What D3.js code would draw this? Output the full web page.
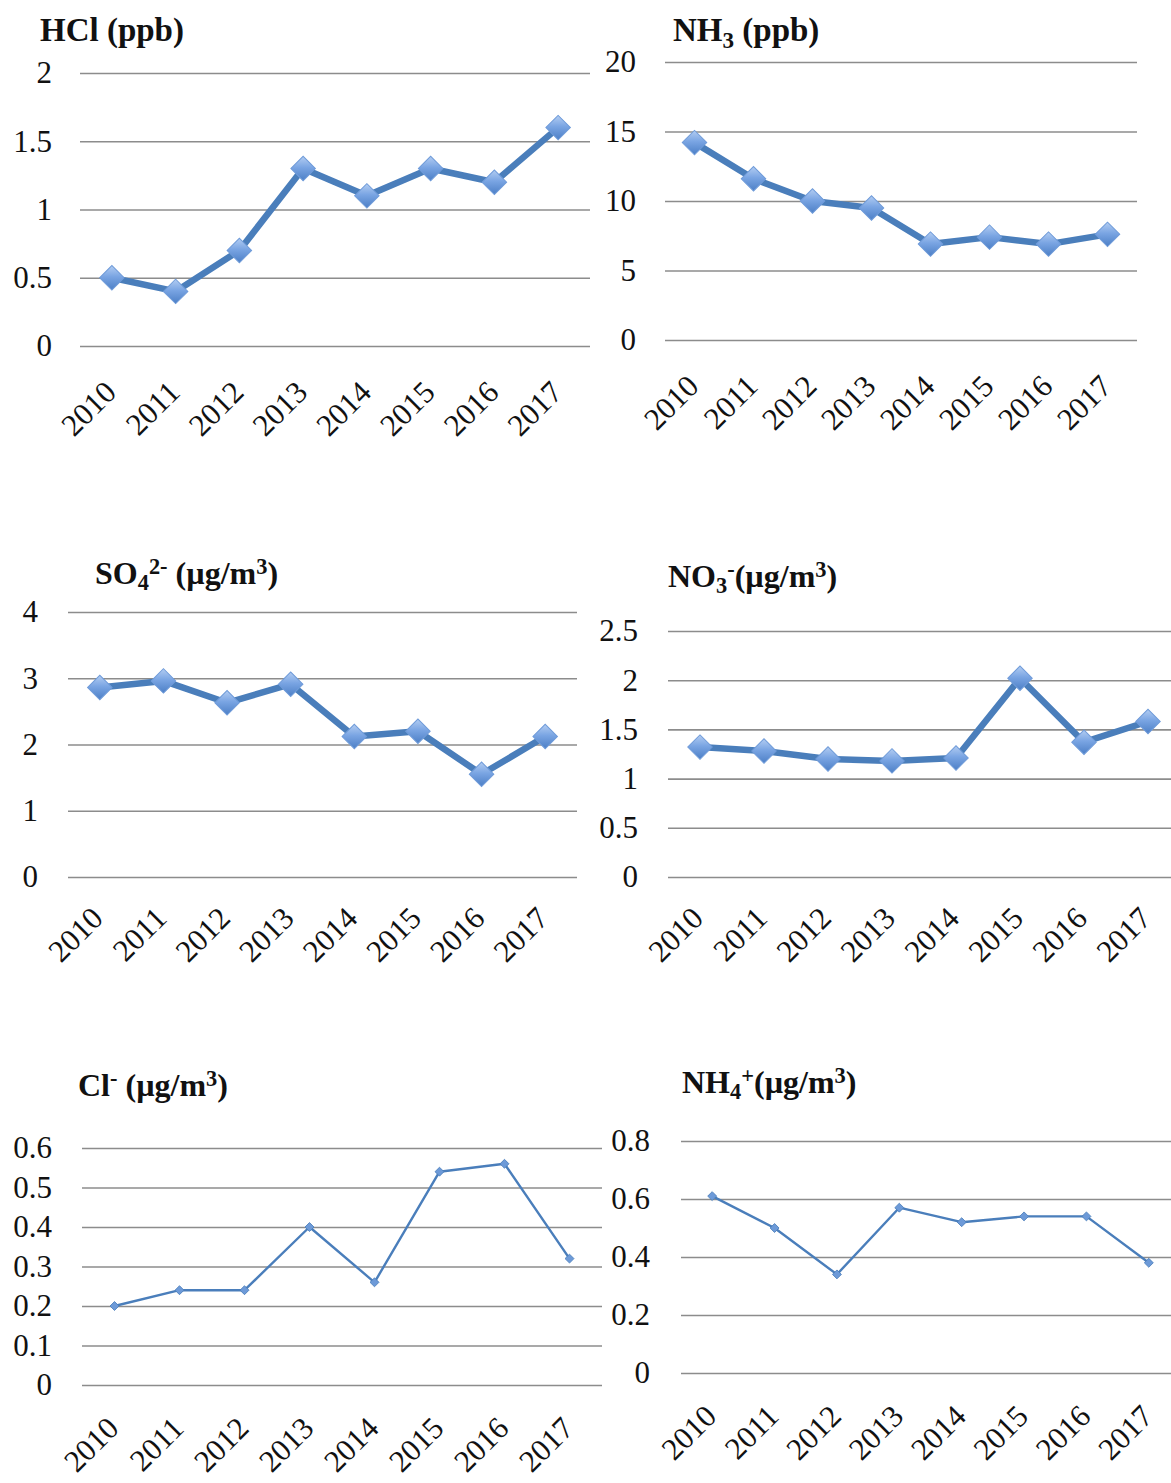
<!DOCTYPE html>
<html>
<head>
<meta charset="utf-8">
<script src="https://cdn.jsdelivr.net/npm/d3@7"></script>
<style>
  html, body { margin: 0; padding: 0; background: #fff; }
  svg { display: block; }
</style>
</head>
<body>
<svg id="chart" width="1171" height="1483"></svg>
<script>
// Annual means, 2010-2017
const years = ["2010", "2011", "2012", "2013", "2014", "2015", "2016", "2017"];

const hclValues = [0.50, 0.40, 0.70, 1.30, 1.10, 1.30, 1.20, 1.60];   // ppb
const nh3Values = [14.2, 11.6, 10.0, 9.5, 6.9, 7.4, 6.9, 7.6];        // ppb
const so4Values = [2.86, 2.96, 2.63, 2.91, 2.12, 2.20, 1.55, 2.12];   // µg/m³
const no3Values = [1.32, 1.28, 1.20, 1.18, 1.21, 2.02, 1.37, 1.58];   // µg/m³
const clValues  = [0.20, 0.24, 0.24, 0.40, 0.26, 0.54, 0.56, 0.32];   // µg/m³
const nh4Values = [0.61, 0.50, 0.34, 0.57, 0.52, 0.54, 0.54, 0.38];   // µg/m³

const hclTicks = [0, 0.5, 1, 1.5, 2];
const nh3Ticks = [0, 5, 10, 15, 20];
const so4Ticks = [0, 1, 2, 3, 4];
const no3Ticks = [0, 0.5, 1, 1.5, 2, 2.5];
const clTicks  = [0, 0.1, 0.2, 0.3, 0.4, 0.5, 0.6];
const nh4Ticks = [0, 0.2, 0.4, 0.6, 0.8];

// Title pieces: [text, role] where role is "n" normal, "sub" or "sup"
const hclTitle = [["HCl (ppb)", "n"]];
const nh3Title = [["NH", "n"], ["3", "sub"], [" (ppb)", "n"]];
const so4Title = [["SO", "n"], ["4", "sub"], ["2-", "sup"], [" (µg/m", "n"], ["3", "sup"], [")", "n"]];
const no3Title = [["NO", "n"], ["3", "sub"], ["-", "sup"], ["(µg/m", "n"], ["3", "sup"], [")", "n"]];
const clTitle  = [["Cl", "n"], ["-", "sup"], [" (µg/m", "n"], ["3", "sup"], [")", "n"]];
const nh4Title = [["NH", "n"], ["4", "sub"], ["+", "sup"], ["(µg/m", "n"], ["3", "sup"], [")", "n"]];

const SERIF = "'Liberation Serif', 'DejaVu Serif', serif";

const svg = d3.select("#chart");
const defs = svg.append("defs");

// Glossy fill for the diamond markers
const grad = defs.append("linearGradient")
  .attr("id", "markerFill")
  .attr("x1", "0%").attr("y1", "0%").attr("x2", "100%").attr("y2", "100%");
grad.append("stop").attr("offset", "0%").attr("stop-color", "#b3cdf2");
grad.append("stop").attr("offset", "45%").attr("stop-color", "#7aa5e3");
grad.append("stop").attr("offset", "100%").attr("stop-color", "#4c7fc6");

const panels = [
  { values: hclValues, ticks: hclTicks, title: hclTitle, max: 2,
    left: 80, right: 590, top: 73, bottom: 346, labelRight: 52,
    titleX: 40, titleY: 41, titleSize: 33, heavy: true, yearDx: 6, yearDy: 48 },
  { values: nh3Values, ticks: nh3Ticks, title: nh3Title, max: 20,
    left: 665, right: 1137, top: 62, bottom: 340, labelRight: 636,
    titleX: 673, titleY: 41, titleSize: 33, heavy: true, yearDx: 6, yearDy: 48 },
  { values: so4Values, ticks: so4Ticks, title: so4Title, max: 4,
    left: 68, right: 577, top: 612, bottom: 877, labelRight: 38,
    titleX: 95, titleY: 584, titleSize: 32, heavy: true, yearDx: 5, yearDy: 43 },
  { values: no3Values, ticks: no3Ticks, title: no3Title, max: 2.5,
    left: 668, right: 1180, top: 631, bottom: 877, labelRight: 638,
    titleX: 668, titleY: 587, titleSize: 32, heavy: true, yearDx: 5, yearDy: 43 },
  { values: clValues, ticks: clTicks, title: clTitle, max: 0.6,
    left: 82, right: 602, top: 1148, bottom: 1385, labelRight: 52,
    titleX: 78, titleY: 1096, titleSize: 32, heavy: false, yearDx: 6, yearDy: 45 },
  { values: nh4Values, ticks: nh4Ticks, title: nh4Title, max: 0.8,
    left: 681, right: 1180, top: 1141, bottom: 1373, labelRight: 650,
    titleX: 682, titleY: 1093, titleSize: 32, heavy: false, yearDx: 6, yearDy: 45 }
];

panels.forEach(p => {
  const x = d3.scaleBand().domain(years).range([p.left, p.right]);
  const y = d3.scaleLinear().domain([0, p.max]).range([p.bottom, p.top]);
  const cx = d => x(d) + x.bandwidth() / 2;

  const g = svg.append("g");

  // Horizontal gridlines with value labels
  const yAxis = d3.axisLeft(y)
    .tickValues(p.ticks)
    .tickFormat(d3.format("~g"))
    .tickSizeInner(-(p.right - p.left))
    .tickSizeOuter(0)
    .tickPadding(p.left - p.labelRight);
  const ya = g.append("g")
    .attr("transform", `translate(${p.left},0)`)
    .call(yAxis)
    .attr("font-family", SERIF)
    .attr("font-size", 31);
  ya.select(".domain").remove();
  ya.selectAll(".tick line").attr("stroke", "#8c8c8c").attr("stroke-width", 1.6);
  ya.selectAll(".tick text").attr("fill", "#111").attr("dy", "0.32em");

  // Rotated year labels
  const xAxis = d3.axisBottom(x).tickSize(0).tickPadding(0);
  const xa = g.append("g")
    .attr("transform", `translate(0,${p.bottom})`)
    .call(xAxis)
    .attr("font-family", SERIF)
    .attr("font-size", 31);
  xa.select(".domain").remove();
  xa.selectAll(".tick text")
    .attr("fill", "#111")
    .attr("text-anchor", "end")
    .attr("dy", null)
    .attr("y", 0)
    .attr("transform", `translate(${p.yearDx},${p.yearDy}) rotate(-45)`);

  // Series line
  const line = d3.line().x((d, i) => cx(years[i])).y(d => y(d));
  g.append("path")
    .datum(p.values)
    .attr("fill", "none")
    .attr("stroke", "#4a7ebb")
    .attr("stroke-width", p.heavy ? 6.5 : 2.4)
    .attr("stroke-linejoin", "round")
    .attr("d", line);

  // Diamond markers
  const sym = d3.symbol().type(d3.symbolSquare).size(p.heavy ? 300 : 40);
  g.selectAll("path.marker")
    .data(p.values)
    .join("path")
    .attr("class", "marker")
    .attr("d", sym)
    .attr("transform", (d, i) => `translate(${cx(years[i])},${y(d)}) rotate(45)`)
    .attr("fill", p.heavy ? "url(#markerFill)" : "#6d9ad8")
    .attr("stroke", p.heavy ? "#6f9bd9" : "#4a7ebb")
    .attr("stroke-width", p.heavy ? 1 : 0.8);

  // Panel title with sub/superscripts
  const t = g.append("text")
    .attr("x", p.titleX)
    .attr("y", p.titleY)
    .attr("font-family", SERIF)
    .attr("font-weight", "bold")
    .attr("font-size", p.titleSize)
    .attr("fill", "#111");
  let shift = 0;
  p.title.forEach(([txt, role]) => {
    const target = role === "sub" ? 0.2 * p.titleSize : role === "sup" ? -0.32 * p.titleSize : 0;
    const span = t.append("tspan").text(txt).attr("dy", target - shift);
    if (role !== "n") span.attr("font-size", p.titleSize * 0.7);
    shift = target;
  });
});
</script>
</body>
</html>
